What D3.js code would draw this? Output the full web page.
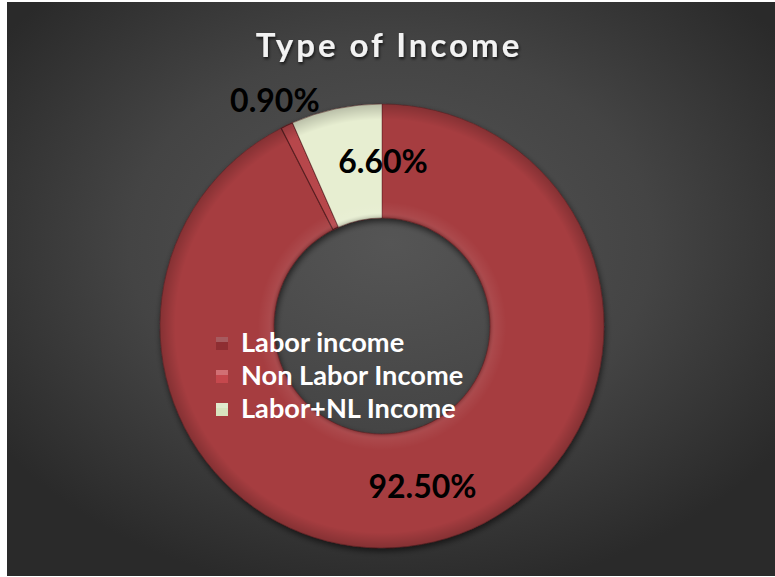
<!DOCTYPE html>
<html>
<head>
<meta charset="utf-8">
<script src="https://cdn.jsdelivr.net/npm/d3@7"></script>
<style>
  html, body { margin: 0; padding: 0; background: #ffffff; }
  svg { display: block; }
  text { font-family: Lato, "Open Sans", "DejaVu Sans", sans-serif; font-weight: 700; }
</style>
</head>
<body>
<svg id="chart" width="775" height="577"></svg>
<script>
// Income shares (%)
const categories = ["Labor income", "Non Labor Income", "Labor+NL Income"];
const shares = [92.5, 0.9, 6.6];
const labels = ["92.50%", "0.90%", "6.60%"];
const colors = ["#a63d40", "#b7464b", "#e7eed1"];
const legendColors = ["#8e2e32", "#c5484d", "#d8e4bf"];

const W = 775, H = 577;
const svg = d3.select("#chart");
const defs = svg.append("defs");

// panel background: dark radial gradient
const bg = defs.append("radialGradient").attr("id", "bg")
  .attr("cx", "50%").attr("cy", "42%").attr("r", "62%");
bg.append("stop").attr("offset", "0%").attr("stop-color", "#555555");
bg.append("stop").attr("offset", "55%").attr("stop-color", "#444444");
bg.append("stop").attr("offset", "100%").attr("stop-color", "#2a2a2a");

const plot = { x: 7, y: 2, w: W - 7, h: H - 3 };
svg.append("rect").attr("x", plot.x).attr("y", plot.y)
  .attr("width", plot.w).attr("height", plot.h).attr("fill", "url(#bg)");

// soft shadow for ring and title
const sh = defs.append("filter").attr("id", "shadow")
  .attr("x", "-10%").attr("y", "-10%").attr("width", "120%").attr("height", "120%");
sh.append("feGaussianBlur").attr("in", "SourceAlpha").attr("stdDeviation", 3);
sh.append("feOffset").attr("dx", 1).attr("dy", 3).attr("result", "b");
sh.append("feComponentTransfer").append("feFuncA").attr("type", "linear").attr("slope", 0.6);
const m = sh.append("feMerge");
m.append("feMergeNode");
m.append("feMergeNode").attr("in", "SourceGraphic");

const tsh = defs.append("filter").attr("id", "tshadow")
  .attr("x", "-10%").attr("y", "-30%").attr("width", "120%").attr("height", "160%");
tsh.append("feGaussianBlur").attr("in", "SourceAlpha").attr("stdDeviation", 1.5);
tsh.append("feOffset").attr("dx", 1).attr("dy", 2).attr("result", "b");
tsh.append("feComponentTransfer").append("feFuncA").attr("type", "linear").attr("slope", 0.7);
const tm = tsh.append("feMerge");
tm.append("feMergeNode");
tm.append("feMergeNode").attr("in", "SourceGraphic");

// bevel shading over the ring
const bev = defs.append("radialGradient").attr("id", "bevel")
  .attr("gradientUnits", "userSpaceOnUse")
  .attr("cx", 0).attr("cy", 0).attr("r", 222);
bev.append("stop").attr("offset", "48.6%").attr("stop-color", "#000").attr("stop-opacity", 0.2);
bev.append("stop").attr("offset", "51%").attr("stop-color", "#fff").attr("stop-opacity", 0.06);
bev.append("stop").attr("offset", "56%").attr("stop-color", "#fff").attr("stop-opacity", 0.0);
bev.append("stop").attr("offset", "93%").attr("stop-color", "#000").attr("stop-opacity", 0.0);
bev.append("stop").attr("offset", "100%").attr("stop-color", "#000").attr("stop-opacity", 0.2);

// title
svg.append("text")
  .attr("x", 389).attr("y", 57)
  .attr("text-anchor", "middle")
  .attr("fill", "#f2f2f2")
  .style("font-size", "33px")
  .style("letter-spacing", "3px")
  .attr("filter", "url(#tshadow)")
  .text("Type of Income");

// donut
const cx = 382, cy = 326, rOuter = 222, rInner = 108;
const g = svg.append("g").attr("transform", `translate(${cx},${cy})`);

const pie = d3.pie().sort(null).value(d => d)(shares);
const arc = d3.arc().innerRadius(rInner).outerRadius(rOuter);

const ring = g.append("g").attr("filter", "url(#shadow)");
ring.selectAll("path.slice")
  .data(pie)
  .join("path")
  .attr("class", "slice")
  .attr("d", arc)
  .attr("fill", (d, i) => colors[i])
  .attr("stroke", (d, i) => i === 1 ? "#5a1f22" : "rgba(90,30,32,0.55)")
  .attr("stroke-width", (d, i) => i === 1 ? 1.2 : 0.8);

// bevel overlay
g.append("path")
  .attr("d", d3.arc().innerRadius(rInner).outerRadius(rOuter).startAngle(0).endAngle(2 * Math.PI)())
  .attr("fill", "url(#bevel)")
  .attr("pointer-events", "none");

// data labels (radius and nudges per slice)
const labelRadius = [165, 250, 165];
const labelNudge = [[2, 12], [0, 12], [35, 8]];
g.selectAll("text.lbl")
  .data(pie)
  .join("text")
  .attr("class", "lbl")
  .attr("transform", (d, i) => {
    const a = (d.startAngle + d.endAngle) / 2;
    const x = Math.sin(a) * labelRadius[i] + labelNudge[i][0];
    const y = -Math.cos(a) * labelRadius[i] + labelNudge[i][1];
    return `translate(${x},${y})`;
  })
  .attr("text-anchor", "middle")
  .attr("fill", "#000")
  .style("font-size", "32px")
  .text((d, i) => labels[i]);

// legend
const legend = svg.append("g").attr("transform", "translate(216,343)");
categories.forEach((c, i) => {
  const row = legend.append("g").attr("transform", `translate(0,${i * 33})`);
  row.append("rect")
    .attr("x", 0).attr("y", -6).attr("width", 12).attr("height", 13)
    .attr("fill", legendColors[i]);
  row.append("rect")
    .attr("x", 0).attr("y", -6).attr("width", 12).attr("height", 5)
    .attr("fill", "#fff").attr("opacity", 0.22);
  row.append("text")
    .attr("x", 25).attr("y", 9)
    .attr("fill", "#ffffff")
    .style("font-size", "27.2px")
    .text(c);
});
</script>
</body>
</html>
